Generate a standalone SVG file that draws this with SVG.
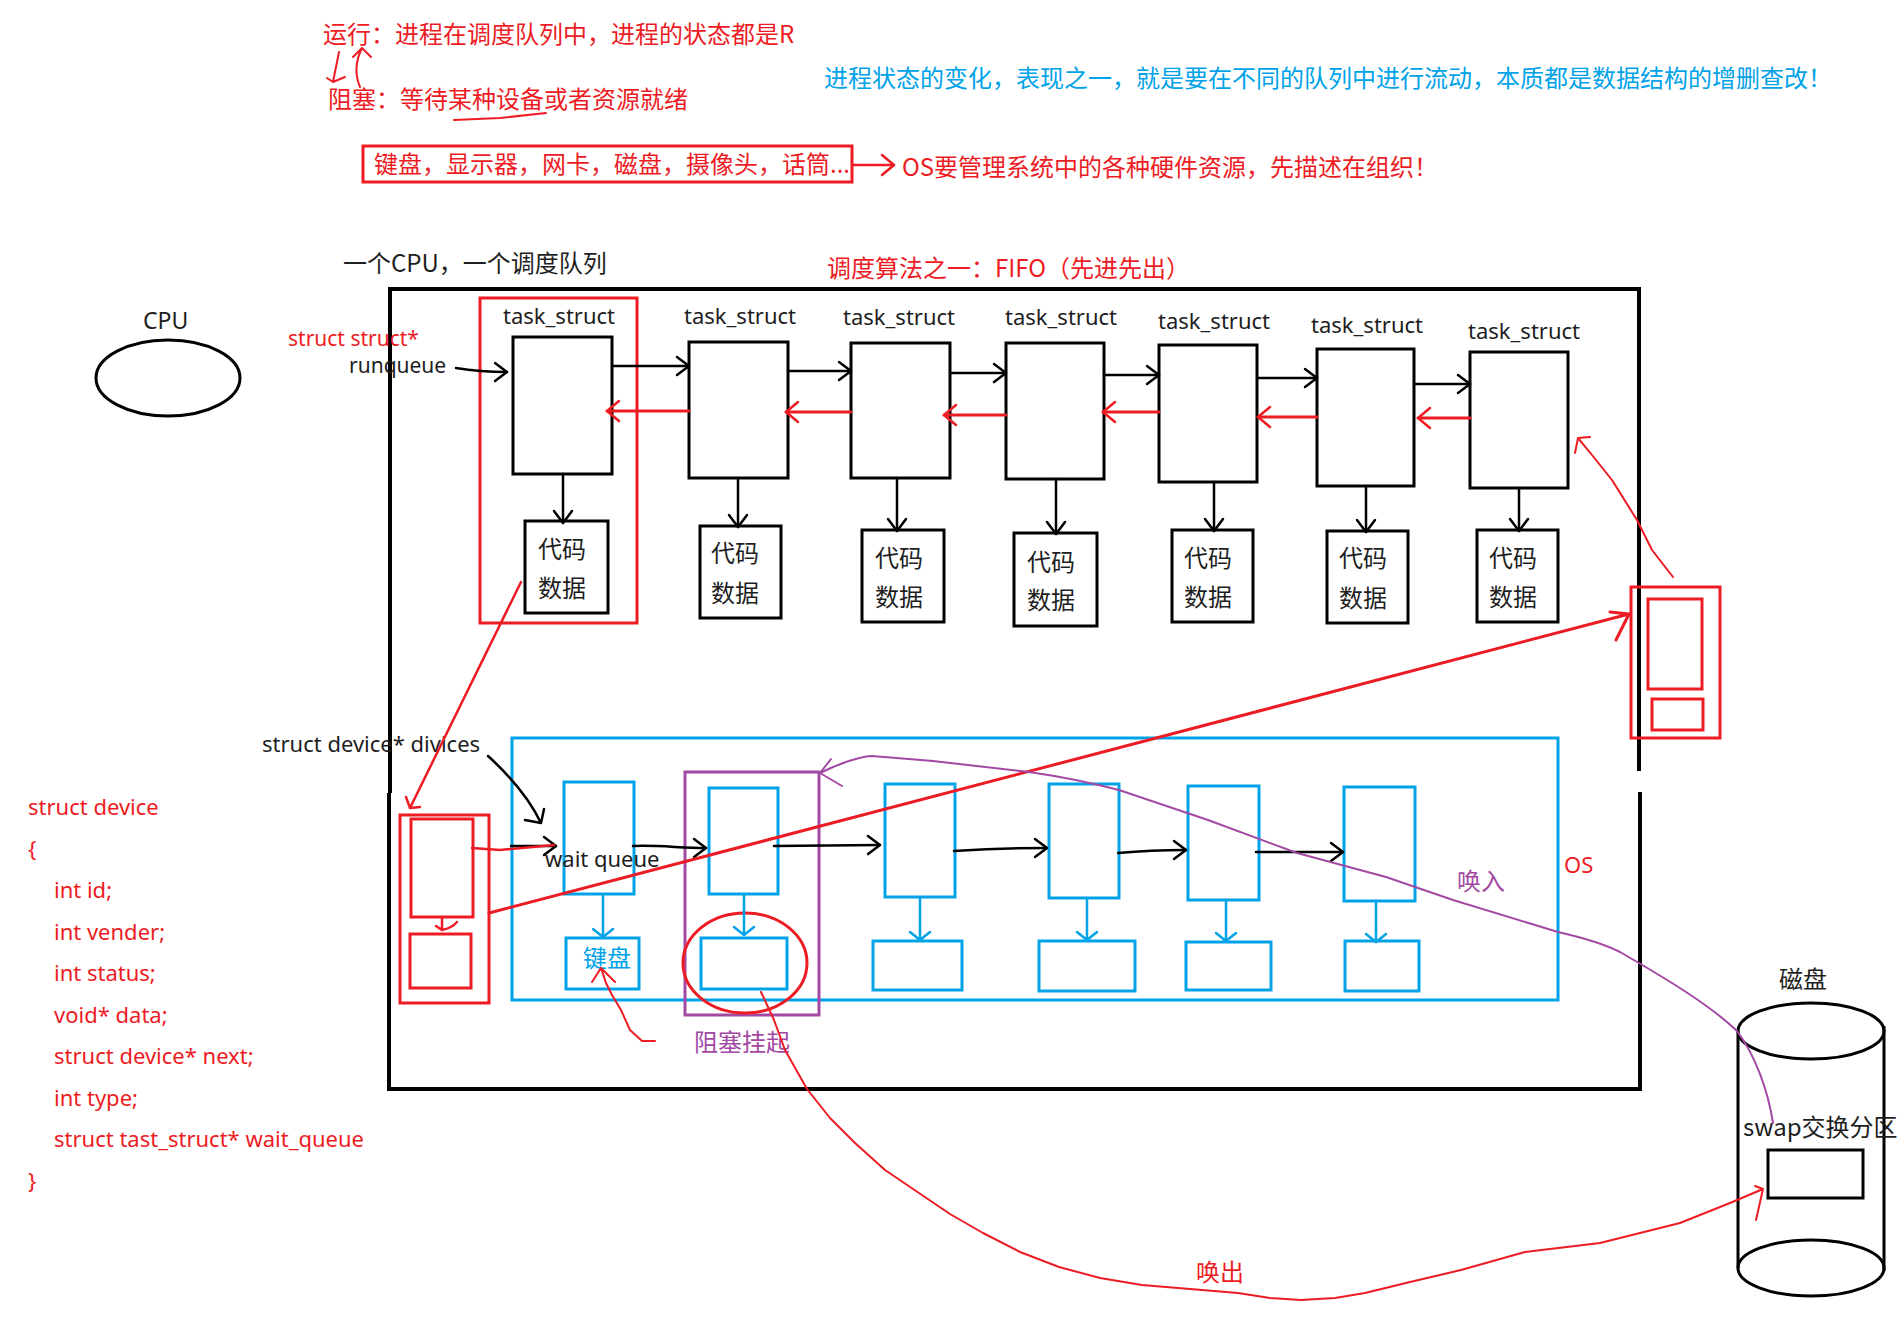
<svg xmlns="http://www.w3.org/2000/svg" width="1898" height="1321" viewBox="0 0 1898 1321">
<defs>
<style>
.cjk{font-family:"Noto Sans CJK SC","Noto Sans",sans-serif;font-size:24px}
.lat{font-family:"Noto Sans","Liberation Sans",sans-serif;font-size:22px}
.tk{fill:#1e1e1e}
.tr{fill:#ED1C24}
.tb{fill:#00A2E8}
.tp{fill:#A349A4}
.bk{fill:none;stroke:#000;stroke-width:3}
.rd{fill:none;stroke:#ED1C24;stroke-width:3}
.bl{fill:none;stroke:#00A2E8;stroke-width:3}
.pu{fill:none;stroke:#A349A4;stroke-width:3}
.ck{fill:none;stroke:#000;stroke-width:2.5;stroke-linecap:round;stroke-linejoin:round}
.cr{fill:none;stroke:#ED1C24;stroke-width:2.5;stroke-linecap:round;stroke-linejoin:round}
.crt{fill:none;stroke:#ED1C24;stroke-width:2;stroke-linecap:round;stroke-linejoin:round}
.cb{fill:none;stroke:#00A2E8;stroke-width:2.5;stroke-linecap:round;stroke-linejoin:round}
.cp{fill:none;stroke:#A349A4;stroke-width:2;stroke-linecap:round;stroke-linejoin:round}
</style>
<marker id="mk" markerUnits="userSpaceOnUse" viewBox="-16 -12 18 24" refX="0" refY="0" markerWidth="18" markerHeight="24" orient="auto"><path d="M-12,-9 L0,0 L-12,9" fill="none" stroke="#000" stroke-width="2.5" stroke-linecap="round" stroke-linejoin="round"/></marker>
<marker id="mr" markerUnits="userSpaceOnUse" viewBox="-16 -12 18 24" refX="0" refY="0" markerWidth="18" markerHeight="24" orient="auto"><path d="M-12,-10 L0,0 L-12,10" fill="none" stroke="#ED1C24" stroke-width="2.5" stroke-linecap="round" stroke-linejoin="round"/></marker>
<marker id="mb" markerUnits="userSpaceOnUse" viewBox="-12 -13 14 26" refX="0" refY="0" markerWidth="14" markerHeight="26" orient="auto"><path d="M-8,-10 L0,0 L-8,10" fill="none" stroke="#00A2E8" stroke-width="2.5" stroke-linecap="round" stroke-linejoin="round"/></marker>
</defs>
<rect width="1898" height="1321" fill="#fff"/>

<g id="notes">
<text class="cjk tr" x="323" y="43">运行：进程在调度队列中，进程的状态都是R</text>
<text class="cjk tr" x="328" y="108">阻塞：等待某种设备或者资源就绪</text>
<path class="crt" d="M454,120 L500,118 L546,113"/>
<text class="cjk tb" x="824" y="87">进程状态的变化，表现之一，就是要在不同的队列中进行流动，本质都是数据结构的增删查改！</text>
<rect class="rd" x="363" y="146" width="489" height="36"/>
<text class="cjk tr" x="374" y="173">键盘，显示器，网卡，磁盘，摄像头，话筒...</text>
<text class="cjk tr" x="902" y="176">OS要管理系统中的各种硬件资源，先描述在组织！</text>
<text class="cjk tk" x="343" y="272">一个CPU，一个调度队列</text>
<text class="cjk tr" x="827" y="277">调度算法之一：FIFO（先进先出）</text>
</g>

<g id="cpu">
<text class="lat tk" x="143" y="329" style="font-size:23px">CPU</text>
<ellipse class="bk" cx="168" cy="378" rx="72" ry="38"/>
</g>

<g id="frame">
<path class="bk" style="stroke-width:4" d="M390,793 L390,289 L1639,289 L1639,771 M1640,792 L1640,1089 L389,1089 L389,793"/>
<path class="bk" style="stroke-width:4" d="M389,836 L389,848"/>
<text class="lat tr" x="288" y="346" style="font-size:21px">struct struct*</text>
<text class="lat tk" x="349" y="373" style="font-size:21px">runqueue</text>
<text class="lat tk" x="262" y="752">struct device* divices</text>
</g>

<g id="task1">
<text class="lat tk" x="503" y="324">task_struct</text>
<rect class="bk" x="513" y="337" width="99" height="137"/>
<rect class="bk" x="525" y="521" width="83" height="92"/>
<text class="cjk tk" x="538" y="558">代码</text>
<text class="cjk tk" x="538" y="597">数据</text>
</g>
<g id="task1-selected">
<rect class="rd" x="480" y="298" width="157" height="325"/>
</g>
<g id="task2">
<text class="lat tk" x="684" y="324">task_struct</text>
<rect class="bk" x="689" y="342" width="99" height="136"/>
<rect class="bk" x="700" y="526" width="81" height="92"/>
<text class="cjk tk" x="711" y="562">代码</text>
<text class="cjk tk" x="711" y="602">数据</text>
</g>
<g id="task3">
<text class="lat tk" x="843" y="325">task_struct</text>
<rect class="bk" x="851" y="343" width="99" height="135"/>
<rect class="bk" x="862" y="530" width="82" height="92"/>
<text class="cjk tk" x="875" y="567">代码</text>
<text class="cjk tk" x="875" y="606">数据</text>
</g>
<g id="task4">
<text class="lat tk" x="1005" y="325">task_struct</text>
<rect class="bk" x="1006" y="343" width="98" height="136"/>
<rect class="bk" x="1014" y="533" width="83" height="93"/>
<text class="cjk tk" x="1027" y="571">代码</text>
<text class="cjk tk" x="1027" y="609">数据</text>
</g>
<g id="task5">
<text class="lat tk" x="1158" y="329">task_struct</text>
<rect class="bk" x="1159" y="345" width="98" height="137"/>
<rect class="bk" x="1172" y="530" width="81" height="92"/>
<text class="cjk tk" x="1184" y="567">代码</text>
<text class="cjk tk" x="1184" y="606">数据</text>
</g>
<g id="task6">
<text class="lat tk" x="1311" y="333">task_struct</text>
<rect class="bk" x="1317" y="349" width="97" height="137"/>
<rect class="bk" x="1327" y="531" width="81" height="92"/>
<text class="cjk tk" x="1339" y="567">代码</text>
<text class="cjk tk" x="1339" y="607">数据</text>
</g>
<g id="task7">
<text class="lat tk" x="1468" y="339">task_struct</text>
<rect class="bk" x="1470" y="352" width="98" height="136"/>
<rect class="bk" x="1477" y="530" width="81" height="92"/>
<text class="cjk tk" x="1489" y="567">代码</text>
<text class="cjk tk" x="1489" y="606">数据</text>
</g>

<g id="device-struct">
<text class="lat tr" x="28" y="815">struct device</text>
<text class="lat tr" x="28" y="857">{</text>
<text class="lat tr" x="54" y="898">int id;</text>
<text class="lat tr" x="54" y="940">int vender;</text>
<text class="lat tr" x="54" y="981">int status;</text>
<text class="lat tr" x="54" y="1023">void* data;</text>
<text class="lat tr" x="54" y="1064">struct device* next;</text>
<text class="lat tr" x="54" y="1106">int type;</text>
<text class="lat tr" x="54" y="1147">struct tast_struct* wait_queue</text>
<text class="lat tr" x="28" y="1189">}</text>
</g>

<g id="device-node">
<rect class="rd" x="400" y="815" width="89" height="188"/>
<rect class="rd" x="411" y="819" width="62" height="98"/>
<rect class="rd" x="410" y="934" width="61" height="54"/>
</g>

<g id="os-box">
<rect class="bl" x="512" y="738" width="1046" height="262"/>
<text class="lat tr" x="1564" y="873">OS</text>
</g>
<g id="wq1">
<rect class="bl" x="564" y="782" width="70" height="112"/>
<rect class="bl" x="566" y="938" width="73" height="51"/>
<text class="cjk tb" x="583" y="967">键盘</text>
<text class="lat tk" x="545" y="867">wait queue</text>
</g>
<g id="wq2">
<rect class="bl" x="709" y="788" width="69" height="106"/>
<rect class="bl" x="701" y="938" width="86" height="51"/>
</g>
<g id="wq3">
<rect class="bl" x="885" y="784" width="70" height="113"/>
<rect class="bl" x="873" y="941" width="89" height="49"/>
</g>
<g id="wq4">
<rect class="bl" x="1049" y="784" width="70" height="114"/>
<rect class="bl" x="1039" y="941" width="96" height="50"/>
</g>
<g id="wq5">
<rect class="bl" x="1188" y="786" width="71" height="114"/>
<rect class="bl" x="1186" y="942" width="85" height="48"/>
</g>
<g id="wq6">
<rect class="bl" x="1344" y="787" width="71" height="114"/>
<rect class="bl" x="1345" y="941" width="74" height="50"/>
</g>

<g id="blocked">
<rect class="pu" x="685" y="772" width="134" height="243"/>
<ellipse class="rd" cx="745" cy="963" rx="62" ry="50"/>
<text class="cjk tp" x="694" y="1051">阻塞挂起</text>
</g>

<g id="swapped-task">
<rect class="rd" x="1631" y="587" width="89" height="151"/>
<rect class="rd" x="1648" y="599" width="54" height="90"/>
<rect class="rd" x="1652" y="699" width="51" height="31"/>
</g>

<g id="disk">
<text class="cjk tk" x="1779" y="988">磁盘</text>
<path class="bk" d="M1738,1031 L1738,1268 M1884,1026 L1884,1271"/>
<ellipse class="bk" cx="1811" cy="1031" rx="73" ry="28"/>
<ellipse class="bk" cx="1811" cy="1268" rx="73" ry="28"/>
<text class="cjk tk" x="1743" y="1136">swap交换分区</text>
<rect class="bk" x="1768" y="1150" width="95" height="48"/>
</g>

<g id="connectors">
<path class="crt" d="M339,52 L333,82 M327,78 L333,82 L345,77"/>
<path class="crt" d="M360,87 Q352,68 362,48 M353,57 L362,48 L371,57"/>
<path class="cr" d="M852,165 L894,165" marker-end="url(#mr)"/>
<path class="ck" d="M456,368 Q480,372 507,372" marker-end="url(#mk)"/>
<path class="ck" d="M612,366 L689,366" marker-end="url(#mk)"/>
<path class="ck" d="M788,371 L851,371" marker-end="url(#mk)"/>
<path class="ck" d="M950,373 L1006,373" marker-end="url(#mk)"/>
<path class="ck" d="M1104,375 L1159,375" marker-end="url(#mk)"/>
<path class="ck" d="M1257,378 L1317,378" marker-end="url(#mk)"/>
<path class="ck" d="M1414,384 L1470,384" marker-end="url(#mk)"/>
<path class="cr" style="stroke-width:3" d="M689,411 L607,411" marker-end="url(#mr)"/>
<path class="cr" style="stroke-width:3" d="M851,412 L786,412" marker-end="url(#mr)"/>
<path class="cr" style="stroke-width:3" d="M1006,415 L944,415" marker-end="url(#mr)"/>
<path class="cr" style="stroke-width:3" d="M1159,412 L1103,412" marker-end="url(#mr)"/>
<path class="cr" style="stroke-width:3" d="M1317,417 L1258,417" marker-end="url(#mr)"/>
<path class="cr" style="stroke-width:3" d="M1470,418 L1418,418" marker-end="url(#mr)"/>
<path class="ck" d="M563,474 L563,523" marker-end="url(#mk)"/>
<path class="ck" d="M738,478 L738,527" marker-end="url(#mk)"/>
<path class="ck" d="M897,478 L897,531" marker-end="url(#mk)"/>
<path class="ck" d="M1056,479 L1056,534" marker-end="url(#mk)"/>
<path class="ck" d="M1214,482 L1214,531" marker-end="url(#mk)"/>
<path class="ck" d="M1366,486 L1366,532" marker-end="url(#mk)"/>
<path class="ck" d="M1519,488 L1519,531" marker-end="url(#mk)"/>
<path class="cr" d="M521,582 L410,808 M406,797 L410,808 L420,807"/>
<path class="ck" d="M488,756 C510,776 530,800 541,823 M525,820 L541,823 L544,809"/>
<path class="cr" d="M442,917 L442,930 M436,926 L442,930 Q452,928 457,922"/>
<path class="ck" d="M511,846 L556,846" marker-end="url(#mk)"/>
<path class="cr" d="M472,848 L500,850 L522,848 L554,845"/>
<path class="ck" d="M633,846 C660,845 680,848 706,848" marker-end="url(#mk)"/>
<path class="ck" d="M774,846 L880,845" marker-end="url(#mk)"/>
<path class="ck" d="M954,851 C985,849 1015,848 1047,848" marker-end="url(#mk)"/>
<path class="ck" d="M1118,853 C1140,851 1160,850 1186,850" marker-end="url(#mk)"/>
<path class="ck" d="M1256,852 L1343,852" marker-end="url(#mk)"/>
<path class="cb" d="M603,894 L603,937" marker-end="url(#mb)"/>
<path class="cb" d="M744,894 L744,935" marker-end="url(#mb)"/>
<path class="cb" d="M920,897 L920,940" marker-end="url(#mb)"/>
<path class="cb" d="M1087,898 L1087,940" marker-end="url(#mb)"/>
<path class="cb" d="M1226,900 L1226,941" marker-end="url(#mb)"/>
<path class="cb" d="M1376,901 L1376,942" marker-end="url(#mb)"/>
<path class="crt" d="M655,1041 L642,1041 L630,1030 L621,1010 L612,995 L606,983 L601,968 M592,982 L601,968 L615,982"/>
<path class="cr" style="stroke-width:3" d="M489,913 L1629,614 M1610,612 L1629,614 L1616,640"/>
<path class="crt" d="M1673,577 L1652,550 L1637,520 L1612,480 L1592,455 L1578,438 M1590,437 L1578,438 L1575,453"/>
<path class="crt" d="M761,992 L774,1020 L785,1050 L807,1089 L830,1118 L855,1143 L885,1170 L919,1193 L950,1214 L983,1233 L1020,1252 L1059,1267 L1100,1278 L1142,1285 L1190,1289 L1238,1293 L1270,1298 L1301,1300 L1335,1298 L1365,1293 L1410,1282 L1461,1270 L1525,1252 L1600,1243 L1640,1233 L1680,1223 L1730,1203 L1763,1189 M1755,1186 L1763,1189 L1756,1220"/>
<text class="cjk tr" x="1196" y="1281">唤出</text>
<path class="cp" d="M1773,1123 C1768,1090 1755,1055 1737,1031 C1710,1005 1665,978 1620,952 C1600,942 1580,937 1558,932 L1453,900 L1386,877 L1297,853 L1208,820 L1119,790 C1080,780 1050,775 1029,772 L933,761 L872,756 C862,756 840,763 820,773 M831,759 L820,773 L842,786"/>
<text class="cjk tp" x="1457" y="890">唤入</text>
</g>
</svg>
